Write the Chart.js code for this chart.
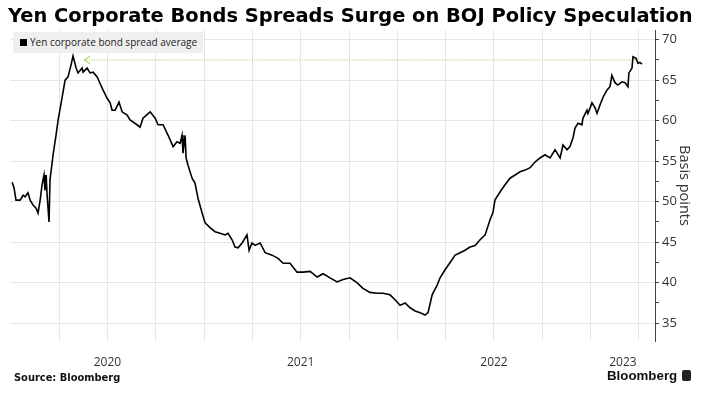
<!DOCTYPE html>
<html>
<head>
<meta charset="utf-8">
<script src="https://cdn.jsdelivr.net/npm/chart.js@4.4.0/dist/chart.umd.min.js"></script>
<style>
  body { margin: 0; background: #fff; }
  #wrap { position: relative; width: 701px; height: 393px; overflow: hidden; }
  #chart { position: absolute; left: 0; top: 0; }
  #title { position: absolute; left: 8px; top: 5px; font-family: "DejaVu Sans"; font-weight: bold; font-size: 19.45px; line-height: 22px; color: #000; white-space: nowrap; }
  #legend { position: absolute; left: 13px; top: 32px; height: 21px; padding: 0 6px 0 7px; background: #efefef; font-family: "Open Sans"; font-size: 10px; line-height: 21px; color: #222; white-space: nowrap; }
  #legend i { display: inline-block; width: 7px; height: 7px; background: #000; margin-right: 3px; }
  #source { position: absolute; left: 14px; top: 372px; font-family: "DejaVu Sans"; font-weight: bold; font-size: 9.9px; color: #111; }
  #brand { position: absolute; left: 607px; top: 368px; font-family: "Liberation Sans"; font-weight: bold; font-size: 13.3px; color: #111; }
  #brand b { display: inline-block; width: 9px; height: 11px; background: #222; border-radius: 2px; margin-left: 5px; vertical-align: -1px; }
</style>
</head>
<body>
<div id="wrap">
  <canvas id="chart" width="701" height="393"></canvas>
  <div id="title">Yen Corporate Bonds Spreads Surge on BOJ Policy Speculation</div>
  <div id="legend"><i></i>Yen corporate bond spread average</div>
  <div id="source">Source: Bloomberg</div>
  <div id="brand">Bloomberg<b></b></div>
</div>
<script>
// data (dates as decimal years)
const dates = [
  2020.007, 2020.017, 2020.027, 2020.048, 2020.064, 2020.074, 2020.089, 2020.100, 2020.115, 2020.131,
  2020.141, 2020.152, 2020.162, 2020.172, 2020.177, 2020.183, 2020.188, 2020.198, 2020.203, 2020.219,
  2020.234, 2020.245, 2020.265, 2020.281, 2020.296, 2020.312, 2020.322, 2020.338, 2020.348, 2020.369,
  2020.374, 2020.395, 2020.410, 2020.426, 2020.447, 2020.462, 2020.477, 2020.498, 2020.514, 2020.524,
  2020.540, 2020.560, 2020.576, 2020.602, 2020.617, 2020.653, 2020.669, 2020.684, 2020.721, 2020.747,
  2020.762, 2020.788, 2020.814, 2020.840, 2020.860, 2020.876, 2020.886, 2020.891, 2020.902, 2020.907,
  2020.917, 2020.938, 2020.953, 2020.969, 2020.990, 2021.005, 2021.031, 2021.057, 2021.083, 2021.109,
  2021.124, 2021.145, 2021.160, 2021.176, 2021.197, 2021.222, 2021.233, 2021.248, 2021.264, 2021.290,
  2021.316, 2021.352, 2021.383, 2021.409, 2021.445, 2021.481, 2021.512, 2021.549, 2021.585, 2021.616,
  2021.652, 2021.688, 2021.719, 2021.755, 2021.791, 2021.822, 2021.858, 2021.895, 2021.926, 2021.962,
  2021.988, 2022.014, 2022.040, 2022.066, 2022.092, 2022.118, 2022.143, 2022.159, 2022.180, 2022.206,
  2022.221, 2022.247, 2022.273, 2022.299, 2022.325, 2022.350, 2022.376, 2022.402, 2022.428, 2022.454,
  2022.480, 2022.495, 2022.505, 2022.531, 2022.557, 2022.583, 2022.609, 2022.635, 2022.661, 2022.687,
  2022.712, 2022.738, 2022.764, 2022.790, 2022.816, 2022.842, 2022.857, 2022.878, 2022.893, 2022.909,
  2022.919, 2022.935, 2022.955, 2022.960, 2022.981, 2022.986, 2023.007, 2023.023, 2023.033, 2023.048,
  2023.064, 2023.085, 2023.100, 2023.110, 2023.126, 2023.141, 2023.162, 2023.178, 2023.193, 2023.198,
  2023.214, 2023.219, 2023.235, 2023.245, 2023.255, 2023.266
];
const spreadAvg = [
  52.4, 51.7, 50.2, 50.2, 50.8, 50.6, 51.1, 50.2, 49.6, 49.2,
  48.6, 50.2, 52.1, 53.3, 51.4, 53.3, 50.8, 47.5, 52.7, 55.8,
  58.2, 60.1, 62.8, 65.0, 65.4, 66.9, 68.0, 66.5, 65.9, 66.5,
  66.0, 66.5, 65.9, 66.0, 65.4, 64.6, 63.8, 62.8, 62.2, 61.3,
  61.3, 62.3, 61.1, 60.7, 60.1, 59.5, 59.2, 60.3, 61.1, 60.3,
  59.5, 59.5, 58.2, 56.8, 57.4, 57.2, 58.2, 56.0, 58.2, 55.4,
  54.5, 52.9, 52.3, 50.4, 48.6, 47.4, 46.8, 46.3, 46.1, 45.9,
  46.1, 45.3, 44.4, 44.3, 44.9, 45.9, 44.0, 44.9, 44.6, 44.9,
  43.7, 43.4, 43.0, 42.4, 42.4, 41.3, 41.3, 41.4, 40.7, 41.1,
  40.6, 40.1, 40.4, 40.6, 40.0, 39.3, 38.8, 38.7, 38.7, 38.5,
  37.9, 37.2, 37.5, 36.9, 36.5, 36.3, 36.0, 36.3, 38.5, 39.7,
  40.6, 41.6, 42.5, 43.4, 43.7, 44.0, 44.4, 44.6, 45.3, 45.9,
  47.8, 48.7, 50.2, 51.2, 52.1, 52.9, 53.3, 53.7, 53.9, 54.2,
  54.9, 55.4, 55.8, 55.4, 56.4, 55.4, 57.0, 56.4, 56.8, 57.9,
  59.1, 59.7, 59.5, 60.3, 61.3, 60.9, 62.2, 61.6, 60.9, 61.9,
  62.9, 63.8, 64.2, 65.6, 64.7, 64.4, 64.8, 64.7, 64.2, 65.9,
  66.5, 67.9, 67.7, 67.1, 67.2, 67.0
];

// dotted arrow back to the 2020 high
const arrowDates = [2020.380, 2023.235];
const arrowLevel = 67.5;

// axis ticks
const quarterTicks = [2020.25, 2020.5, 2020.75, 2021, 2021.25, 2021.5, 2021.75, 2022, 2022.25, 2022.5, 2022.75, 2023, 2023.25];
const yearLabels = ['2020', '2021', '2022', '2023'];
const yearLabelAt = [2020.5, 2021.5, 2022.5, 2023.167];
const yMajorTicks = [35, 40, 45, 50, 55, 60, 65, 70];
const yMinorTicks = [37.5, 42.5, 47.5, 52.5, 57.5, 62.5, 67.5];

const gridColor = '#e6e6e6';
const arrowColor = '#9ccc3a';

// arrow head on the left end of the dotted line
const arrowHead = {
    id: 'arrowHead',
    afterDatasetsDraw(chart) {
        const pt = chart.getDatasetMeta(1).data[0];
        const c = chart.ctx;
        c.save();
        c.strokeStyle = arrowColor;
        c.lineWidth = 1;
        c.beginPath();
        c.moveTo(pt.x + 6, pt.y - 4);
        c.lineTo(pt.x, pt.y);
        c.lineTo(pt.x + 6, pt.y + 4);
        c.stroke();
        c.restore();
    }
};

const ctx = document.getElementById('chart').getContext('2d');
const myChart = new Chart(ctx, {
    type: 'line',
    data: {
        datasets: [{
            label: 'Yen corporate bond spread average',
            data: dates.map((d, i) => ({ x: d, y: spreadAvg[i] })),
            borderColor: '#000',
            borderWidth: 1.6,
            pointRadius: 0,
            tension: 0
        }, {
            label: 'arrow',
            data: arrowDates.map(d => ({ x: d, y: arrowLevel })),
            borderColor: arrowColor,
            borderWidth: 1,
            borderDash: [1, 1.5],
            pointRadius: 0
        }]
    },
    options: {
        responsive: false,
        animation: false,
        layout: { padding: { top: 30, left: 10, right: 0, bottom: 22 } },
        plugins: {
            legend: { display: false },
            tooltip: { enabled: false }
        },
        scales: {
            x: {
                type: 'linear',
                min: 2019.996,
                max: 2023.333,
                afterFit: (scale) => { scale.height = 30; },
                afterBuildTicks: (scale) => {
                    const vals = quarterTicks.concat([yearLabelAt[3]]).sort((a, b) => a - b);
                    scale.ticks = vals.map(v => ({ value: v }));
                },
                border: { display: false },
                grid: {
                    drawTicks: false,
                    color: (c) => (c.tick && quarterTicks.includes(c.tick.value)) ? gridColor : 'rgba(0,0,0,0)'
                },
                ticks: {
                    autoSkip: false,
                    maxRotation: 0,
                    padding: 14,
                    color: '#333',
                    font: { family: 'Open Sans', size: 12 },
                    callback: (v) => {
                        const idx = yearLabelAt.indexOf(v);
                        return idx >= 0 ? yearLabels[idx] : '';
                    }
                }
            },
            y: {
                position: 'right',
                min: 32.8,
                max: 71.2,
                afterFit: (scale) => { scale.width = 46; },
                afterBuildTicks: (scale) => {
                    const vals = yMajorTicks.concat(yMinorTicks).sort((a, b) => a - b);
                    scale.ticks = vals.map(v => ({ value: v }));
                },
                border: { display: true, color: '#444', width: 1 },
                grid: {
                    color: (c) => (c.tick && yMajorTicks.includes(c.tick.value)) ? gridColor : 'rgba(0,0,0,0)',
                    tickColor: '#444',
                    tickLength: 4
                },
                ticks: {
                    padding: 3,
                    color: '#333',
                    font: { family: 'Open Sans', size: 13 },
                    callback: (v) => yMajorTicks.includes(v) ? String(v) : ''
                },
                title: {
                    display: true,
                    text: 'Basis points',
                    color: '#333',
                    font: { family: 'Open Sans', size: 14.5 },
                    padding: { top: 8, bottom: 0 }
                }
            }
        }
    },
    plugins: [arrowHead]
});
</script>
</body>
</html>
